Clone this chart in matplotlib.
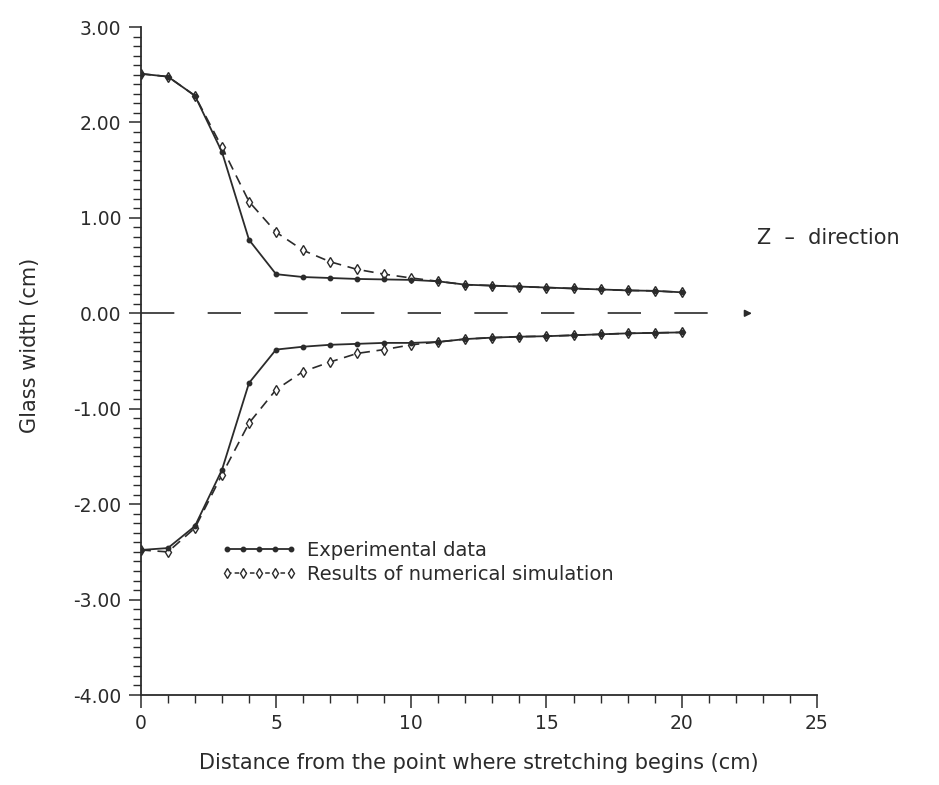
import matplotlib.pyplot as plt
import numpy as np
from matplotlib.ticker import MultipleLocator, FormatStrFormatter
from matplotlib.lines import Line2D

# distance from the point where stretching begins (cm)
x_exp = [0, 1, 2, 3, 4, 5, 6, 7, 8, 9, 10, 11, 12, 13, 14, 15, 16, 17, 18, 19, 20]
# experimental half-width, upper and lower
exp_upper = [2.51, 2.48, 2.28, 1.69, 0.77, 0.41, 0.38, 0.37, 0.36, 0.355, 0.35,
             0.335, 0.30, 0.29, 0.28, 0.27, 0.26, 0.25, 0.24, 0.235, 0.22]
exp_lower = [-2.48, -2.46, -2.23, -1.64, -0.73, -0.38, -0.35, -0.33, -0.32, -0.31, -0.31,
             -0.30, -0.27, -0.255, -0.245, -0.24, -0.23, -0.22, -0.21, -0.205, -0.20]

x_sim = [0, 1, 2, 3, 4, 5, 6, 7, 8, 9, 10, 11, 12, 13, 14, 15, 16, 17, 18, 19, 20]
sim_upper = [2.51, 2.48, 2.28, 1.74, 1.17, 0.85, 0.66, 0.54, 0.46, 0.41, 0.37,
             0.335, 0.30, 0.29, 0.28, 0.27, 0.26, 0.25, 0.24, 0.235, 0.22]
sim_lower = [-2.48, -2.50, -2.25, -1.69, -1.15, -0.80, -0.61, -0.51, -0.42, -0.38, -0.33,
             -0.30, -0.27, -0.255, -0.245, -0.24, -0.23, -0.22, -0.21, -0.205, -0.20]

ink = '#2b2b2b'
plt.rcParams['font.family'] = 'DejaVu Sans'

fig = plt.figure(figsize=(9.39, 7.85), dpi=100)
ax = fig.add_axes([0.150, 0.1146, 0.720, 0.851])

# simulation: dashed line with open diamonds
for ys in (sim_upper, sim_lower):
    ax.plot(x_sim, ys, color=ink, lw=1.2, dashes=(6, 4), marker='d', ms=5.5,
            mfc='white', mec=ink, mew=1.0, zorder=2)
# experiment: solid line with filled dots
for ys in (exp_upper, exp_lower):
    ax.plot(x_exp, ys, color=ink, lw=1.3, marker='o', ms=3.2, mfc=ink, mec=ink, zorder=3)

# z-direction axis (dashed) with arrow
ax.plot([0, 21.8], [0, 0], color=ink, lw=1.2, dashes=(20, 20))
ax.annotate('', xy=(22.7, 0), xytext=(22.3, 0),
            arrowprops=dict(arrowstyle='-|>', color=ink, lw=1.2, mutation_scale=10))
ax.text(22.8, 0.79, 'Z  \u2013  direction', fontsize=15, color=ink, va='center', ha='left',
        clip_on=False)

ax.set_xlim(0, 25)
ax.set_ylim(-4, 3)
ax.xaxis.set_major_locator(MultipleLocator(5))
ax.xaxis.set_minor_locator(MultipleLocator(1))
ax.yaxis.set_major_locator(MultipleLocator(1))
ax.yaxis.set_minor_locator(MultipleLocator(0.1))
ax.yaxis.set_major_formatter(FormatStrFormatter('%.2f'))

for s in ('top', 'right'):
    ax.spines[s].set_visible(False)
for s in ('left', 'bottom'):
    ax.spines[s].set_color(ink)
    ax.spines[s].set_linewidth(1.3)

ax.tick_params(axis='both', which='major', direction='out', length=9, width=1.1,
               colors=ink, labelsize=13.5, pad=5)
ax.tick_params(axis='both', which='minor', direction='out', length=6, width=1.0, colors=ink)

ax.set_xlabel('Distance from the point where stretching begins (cm)', fontsize=15,
              color=ink, labelpad=14)
ax.set_ylabel('Glass width (cm)', fontsize=15, color=ink)
ax.yaxis.set_label_coords(-0.149, 0.524)

handles = [
    Line2D([], [], color=ink, lw=1.3, marker='o', ms=3.2, mfc=ink, mec=ink),
    Line2D([], [], color=ink, lw=1.1, dashes=(3, 2), marker='d', ms=5.5, mfc='white', mec=ink),
]
ax.legend(handles, ['Experimental data', 'Results of numerical simulation'],
          loc='upper left', bbox_to_anchor=(0.093, 0.257), frameon=False,
          numpoints=5, handlelength=3.9, handletextpad=0.5, fontsize=14,
          labelspacing=0.25, labelcolor=ink)

fig.savefig('out.png', dpi=100)
